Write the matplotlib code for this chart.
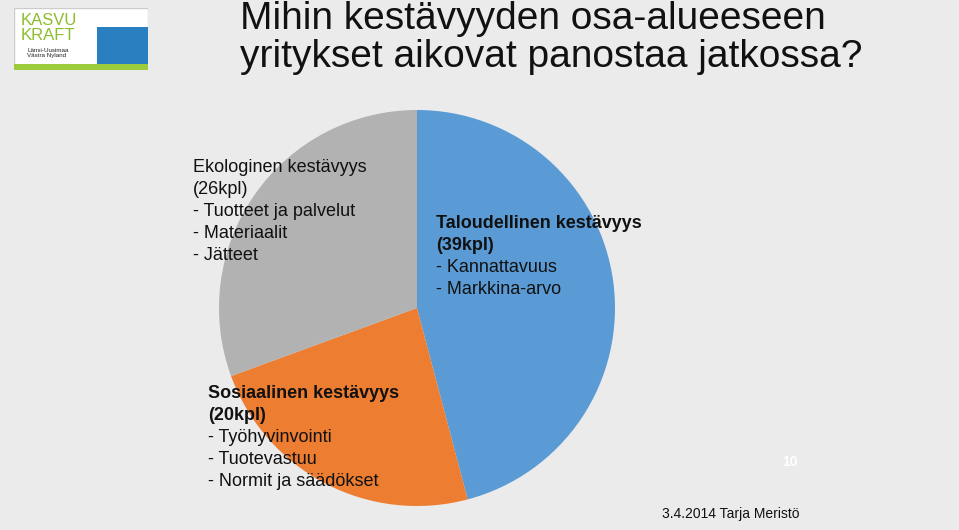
import matplotlib
matplotlib.use("Agg")
import matplotlib.pyplot as plt
from matplotlib.patches import Rectangle

plt.rcParams["font.family"] = ["Liberation Sans", "DejaVu Sans"]

# data
labels = ["Taloudellinen kestävyys", "Sosiaalinen kestävyys", "Ekologinen kestävyys"]
counts = [39, 20, 26]
colors = ["#5b9bd5", "#ed7d31", "#b2b2b2"]
details = [
    ["Kannattavuus", "Markkina-arvo"],
    ["Työhyvinvointi", "Tuotevastuu", "Normit ja säädökset"],
    ["Tuotteet ja palvelut", "Materiaalit", "Jätteet"],
]

W, H = 959, 530
fig = plt.figure(figsize=(W / 100, H / 100), dpi=100)
fig.patch.set_facecolor("#ebebeb")

# pie: center (417, 308) px, radius ~198 px
cx, cy, r = 417, 308, 198
ax = fig.add_axes([(cx - r) / W, (H - cy - r) / H, 2 * r / W, 2 * r / H])
ax.pie(counts, colors=colors, startangle=90, counterclock=False,
       wedgeprops=dict(linewidth=0))
ax.set_xlim(-1, 1); ax.set_ylim(-1, 1)
ax.set_aspect("auto")
ax.axis("off")

def px(x, y):
    return x / W, 1 - y / H

fig.text(*px(240, 19), "Mihin kestävyyden osa-alueeseen", fontsize=28, ha="left", va="center", color="#111111")
fig.text(*px(240, 57), "yritykset aikovat panostaa jatkossa?", fontsize=28, ha="left", va="center", color="#111111")

LH = 22  # line height px
def block(x, y, i, bold):
    fig.text(*px(x, y), labels[i], fontsize=13, ha="left", va="center",
             fontweight="bold" if bold else "normal", color="#111111")
    fig.text(*px(x, y + LH), f"({counts[i]}kpl)", fontsize=13, ha="left", va="center",
             fontweight="bold" if bold else "normal", color="#111111")
    for k, d in enumerate(details[i]):
        fig.text(*px(x, y + LH * (k + 2)), "- " + d, fontsize=13, ha="left", va="center", color="#111111")

block(436, 224, 0, True)
block(208, 394, 1, True)
block(193, 168, 2, False)

fig.text(*px(790, 462), "10", fontsize=10, ha="center", va="center", color="white", fontweight="bold")
fig.text(*px(800, 514), "3.4.2014 Tarja Meristö", fontsize=10, ha="right", va="center", color="#111111")

# logo
lg = fig.add_axes([14 / W, 1 - 70 / H, 134 / W, 62 / H])
lg.set_xlim(0, 1); lg.set_ylim(0, 1); lg.axis("off")
lg.add_patch(Rectangle((0, 0), 1, 1, facecolor="white", edgecolor="#cccccc"))
lg.add_patch(Rectangle((0.62, 0.1), 0.38, 0.6, facecolor="#2a7fc0"))
lg.add_patch(Rectangle((0.0, 0.0), 1, 0.1, facecolor="#9ccc3c"))
lg.text(0.05, 0.8, "KASVU", color="#8cbd2c", fontsize=12, va="center")
lg.text(0.05, 0.55, "KRAFT", color="#8cbd2c", fontsize=12, va="center")
lg.text(0.1, 0.27, "Länsi-Uusimaa\nVästra Nyland", color="#222222", fontsize=4.5, va="center", linespacing=1)

fig.savefig("out.png", dpi=100, facecolor=fig.get_facecolor())
